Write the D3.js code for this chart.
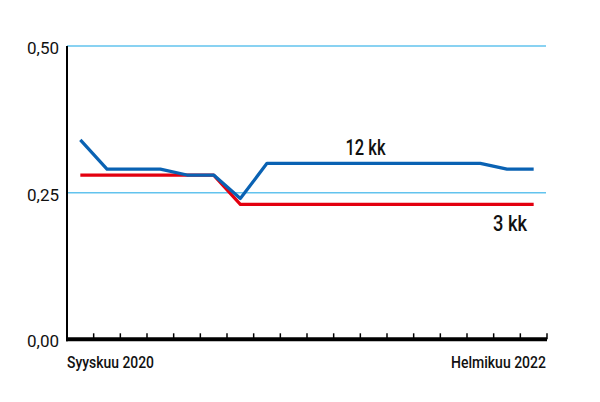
<!DOCTYPE html>
<html>
<head>
<meta charset="utf-8">
<script src="https://cdn.jsdelivr.net/npm/d3@7"></script>
<style>
  body { margin: 0; background: #fff; }
  svg text { font-family: Roboto, "DejaVu Sans", sans-serif; font-weight: 500; fill: #111; }
</style>
</head>
<body>
<svg id="chart" width="600" height="402"></svg>
<script>
// kuukaudet syyskuu 2020 - helmikuu 2022
var months = ["2020-09","2020-10","2020-11","2020-12","2021-01","2021-02","2021-03","2021-04",
  "2021-05","2021-06","2021-07","2021-08","2021-09","2021-10","2021-11","2021-12","2022-01","2022-02"];
var euribor12 = [0.34,0.29,0.29,0.29,0.28,0.28,0.24,0.30,0.30,0.30,0.30,0.30,0.30,0.30,0.30,0.30,0.29,0.29];
var euribor3  = [0.28,0.28,0.28,0.28,0.28,0.28,0.23,0.23,0.23,0.23,0.23,0.23,0.23,0.23,0.23,0.23,0.23,0.23];
var yTicks = [0, 0.25, 0.5];
var xLabels = ["Syyskuu 2020", "Helmikuu 2022"];

(function() {
  var svg = d3.select("#chart");
  var mLeft = 67, mRight = 547, mTop = 46, mBottom = 339.3;

  var x = d3.scaleBand().domain(months).range([mLeft, mRight]);
  var y = d3.scaleLinear().domain([0, 0.5]).range([mBottom, mTop]);
  var fmt = function(d) { return d3.format(".2f")(d).replace(".", ","); };

  // gridlines
  svg.selectAll("line.grid").data(yTicks.filter(function(d){ return d > 0; }))
    .enter().append("line")
    .attr("x1", mLeft).attr("x2", mRight - 1)
    .attr("y1", function(d){ return y(d); }).attr("y2", function(d){ return y(d); })
    .attr("stroke", "#62c3ee").attr("stroke-width", 1.5);

  // y labels
  svg.selectAll("text.ylab").data(yTicks).enter().append("text")
    .attr("x", 59).attr("y", function(d){ return y(d) + 8; })
    .attr("text-anchor", "end").attr("font-size", 16)
    .style("font-weight", 400)
    .attr("textLength", 32).attr("lengthAdjust", "spacingAndGlyphs")
    .text(fmt);

  // y axis line
  svg.append("line").attr("x1", mLeft).attr("x2", mLeft).attr("y1", mTop).attr("y2", mBottom + 2)
    .attr("stroke", "#000").attr("stroke-width", 2);

  // x axis ticks at month boundaries
  svg.selectAll("line.tick").data(months).enter().append("line")
    .attr("x1", function(d){ return x(d) + x.bandwidth(); })
    .attr("x2", function(d){ return x(d) + x.bandwidth(); })
    .attr("y1", mBottom - 6).attr("y2", mBottom)
    .attr("stroke", "#000").attr("stroke-width", 1.5);

  svg.append("line").attr("x1", mLeft - 1).attr("x2", mRight).attr("y1", mBottom).attr("y2", mBottom)
    .attr("stroke", "#000").attr("stroke-width", 4);

  // x labels
  svg.append("text").attr("x", mLeft).attr("y", 368).attr("font-size", 16.5)
    .attr("textLength", 87).attr("lengthAdjust", "spacingAndGlyphs").text(xLabels[0]);
  svg.append("text").attr("x", mRight - 1).attr("y", 368).attr("font-size", 16.5)
    .attr("text-anchor", "end")
    .attr("textLength", 95).attr("lengthAdjust", "spacingAndGlyphs").text(xLabels[1]);

  var line = function(vals) {
    return d3.line()
      .x(function(d, i){ return x(months[i]) + x.bandwidth() / 2; })
      .y(function(d){ return y(d); })(vals);
  };

  svg.append("path").attr("d", line(euribor3)).attr("fill", "none")
    .attr("stroke", "#e3000f").attr("stroke-width", 3.2).attr("stroke-linejoin", "round");
  svg.append("path").attr("d", line(euribor12)).attr("fill", "none")
    .attr("stroke", "#0a62b3").attr("stroke-width", 3.2).attr("stroke-linejoin", "round");

  // series labels
  svg.append("text").attr("x", 345.5).attr("y", 155).attr("font-size", 22)
    .attr("textLength", 40).attr("lengthAdjust", "spacingAndGlyphs").text("12 kk");
  svg.append("text").attr("x", 493).attr("y", 230.5).attr("font-size", 22)
    .attr("textLength", 34).attr("lengthAdjust", "spacingAndGlyphs").text("3 kk");
})();
</script>
</body>
</html>
